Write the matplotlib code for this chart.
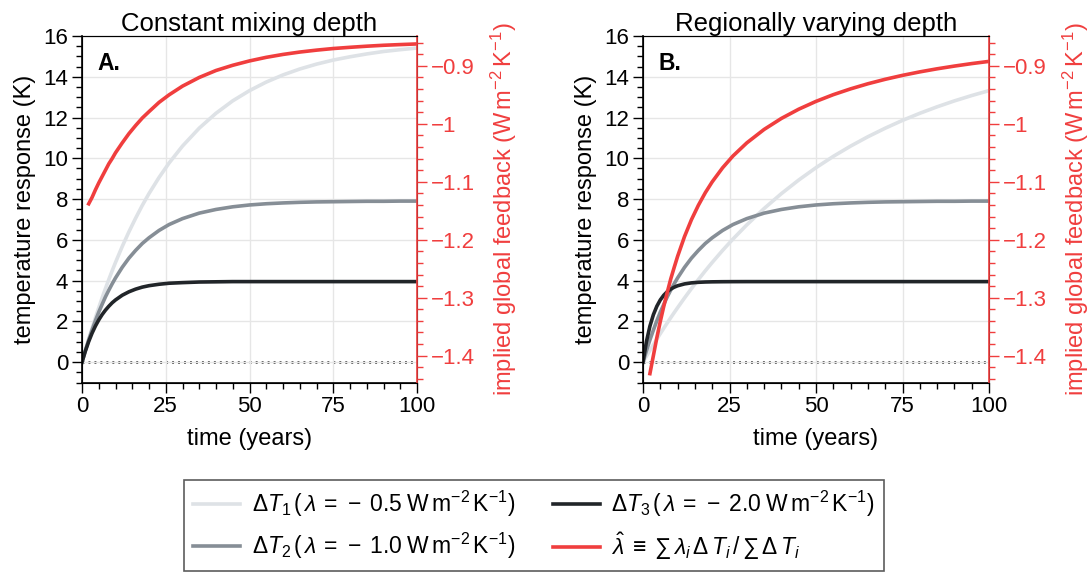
import numpy as np
import matplotlib
matplotlib.use("Agg")
import matplotlib.pyplot as plt
from matplotlib.ticker import MultipleLocator, FuncFormatter

plt.rcParams['font.family'] = ['Liberation Sans', 'DejaVu Sans']
plt.rcParams['mathtext.fontset'] = 'custom'
plt.rcParams['mathtext.rm'] = 'Liberation Sans'
plt.rcParams['mathtext.it'] = 'Liberation Sans:italic'
plt.rcParams['mathtext.bf'] = 'Liberation Sans:bold'
plt.rcParams['axes.unicode_minus'] = True

# ---------------- data ----------------
time = [0, 1, 2, 3, 4, 5, 6, 7, 8, 9, 10, 12, 14, 16, 18, 20, 23, 26, 30, 35,
        40, 45, 50, 55, 60, 65, 70, 75, 80, 85, 90, 95, 100]

# Panel A: constant mixing depth
A_dT1 = [0, 0.575, 1.13, 1.66, 2.18, 2.67, 3.15, 3.61, 4.05, 4.48, 4.89, 5.67, 6.39,
         7.06, 7.69, 8.27, 9.06, 9.77, 10.60, 11.48, 12.21, 12.82, 13.32, 13.74,
         14.09, 14.38, 14.62, 14.82, 14.98, 15.12, 15.24, 15.33, 15.41]
A_dT2 = [0, 0.56, 1.09, 1.57, 2.03, 2.45, 2.83, 3.20, 3.53, 3.84, 4.13, 4.65, 5.10,
         5.48, 5.82, 6.10, 6.46, 6.75, 7.04, 7.31, 7.49, 7.62, 7.71, 7.77, 7.81,
         7.84, 7.86, 7.87, 7.88, 7.89, 7.89, 7.90, 7.90]
A_dT3 = [0, 0.54, 1.01, 1.42, 1.77, 2.07, 2.33, 2.55, 2.74, 2.91, 3.05, 3.28, 3.45,
         3.58, 3.68, 3.75, 3.82, 3.87, 3.90, 3.93, 3.94, 3.95, 3.95, 3.95, 3.95,
         3.95, 3.95, 3.95, 3.95, 3.95, 3.95, 3.95, 3.95]
A_lam = [np.nan, np.nan, -1.138, -1.127, -1.114, -1.102, -1.091, -1.080, -1.069,
         -1.060, -1.050, -1.033, -1.017, -1.003, -0.990, -0.979, -0.963, -0.950,
         -0.935, -0.920, -0.908, -0.899, -0.8915, -0.8853, -0.8803, -0.8762,
         -0.8729, -0.8701, -0.8680, -0.8661, -0.8645, -0.8633, -0.8622]

# Panel B: regionally varying depth
B_dT1 = [0, 0.29, 0.575, 0.854, 1.128, 1.397, 1.661, 1.921, 2.176, 2.425, 2.669,
         3.148, 3.608, 4.051, 4.479, 4.890, 5.480, 6.038, 6.734, 7.536, 8.267,
         8.933, 9.540, 10.094, 10.598, 11.058, 11.476, 11.860, 12.208, 12.526,
         12.816, 13.079, 13.320]
B_dT2 = A_dT2
B_dT3 = [0, 1.013, 1.766, 2.326, 2.742, 3.052, 3.282, 3.454, 3.581, 3.675, 3.746,
         3.837, 3.888, 3.916, 3.931, 3.939, 3.945, 3.948, 3.95, 3.95, 3.95, 3.95,
         3.95, 3.95, 3.95, 3.95, 3.95, 3.95, 3.95, 3.95, 3.95, 3.95, 3.95]
B_lam = [np.nan, np.nan, -1.431, -1.400, -1.369, -1.341, -1.315, -1.291, -1.268,
         -1.248, -1.2287, -1.1945, -1.1654, -1.1406, -1.1189, -1.1001, -1.0759,
         -1.0555, -1.0329, -1.0097, -0.9907, -0.9748, -0.9613, -0.9497, -0.9397,
         -0.9309, -0.9232, -0.9164, -0.9104, -0.9051, -0.9004, -0.8961, -0.8923]

titles = ["Constant mixing depth", "Regionally varying depth"]
panel_labels = ["A.", "B."]
legend_labels = [
    r'$\Delta T_1\,(\,\lambda\, =\, -\;0.5\;\mathrm{W}\,\mathrm{m}^{-2}\,\mathrm{K}^{-1})$',
    r'$\Delta T_2\,(\,\lambda\, =\, -\;1.0\;\mathrm{W}\,\mathrm{m}^{-2}\,\mathrm{K}^{-1})$',
    r'$\Delta T_3\,(\,\lambda\, =\, -\;2.0\;\mathrm{W}\,\mathrm{m}^{-2}\,\mathrm{K}^{-1})$',
    r'$\hat{\lambda}\; \equiv\; \sum\, \lambda_i\, \Delta\, T_i\, /\, \sum\, \Delta\, T_i$',
]

# ---------------- style ----------------
C1 = '#dee2e6'
C2 = '#868e96'
C3 = '#212529'
CR = '#f03e3e'
FS_TICK = 16
FS_LAB = 17

fig = plt.figure(figsize=(10.91, 5.75), dpi=100)
lefts = [82 / 1091, 643 / 1091]
widths = [335 / 1091, 346 / 1091]
B0 = (575 - 382.5) / 575
H = 346.5 / 575

handles = None
for k, (T1, T2, T3, LAM) in enumerate([(A_dT1, A_dT2, A_dT3, A_lam),
                                        (B_dT1, B_dT2, B_dT3, B_lam)]):
    ax = fig.add_axes([lefts[k], B0, widths[k], H])
    ax.grid(True, which='major', color='#e6e6e6', lw=1.0, zorder=0)
    ax.axhline(0, color='#444444', ls=(0, (0.7, 1.45)), lw=2.0, zorder=1)
    l1, = ax.plot(time, T1, color=C1, lw=2.6, zorder=2)
    l2, = ax.plot(time, T2, color=C2, lw=2.6, zorder=3)
    l3, = ax.plot(time, T3, color=C3, lw=2.6, zorder=4)
    ax.set_xlim(0, 100)
    ax.set_ylim(-1, 16)
    ax.xaxis.set_major_locator(MultipleLocator(25))
    ax.xaxis.set_minor_locator(MultipleLocator(5))
    ax.yaxis.set_major_locator(MultipleLocator(2))
    ax.yaxis.set_minor_locator(MultipleLocator(0.5))
    ax.tick_params(which='major', length=7, width=1, labelsize=FS_TICK,
                   direction='out', pad=3)
    ax.tick_params(which='minor', length=4, width=1, direction='out')
    ax.tick_params(axis='x', which='both', top=False)
    ax.set_xlabel('time (years)', fontsize=FS_LAB, labelpad=8)
    ax.set_ylabel('temperature response (K)', fontsize=FS_LAB, labelpad=5)
    ax.set_title(titles[k], fontsize=18.5, pad=1)
    ax.text(0.045, 0.955, panel_labels[k], transform=ax.transAxes, fontsize=16.5,
            fontweight='bold', va='top', ha='left')
    for s in ['left', 'bottom']:
        ax.spines[s].set_linewidth(1.2)
    ax.spines['top'].set_color('#333333')
    ax.spines['top'].set_linewidth(0.8)

    ax2 = ax.twinx()
    lr, = ax2.plot(time, LAM, color=CR, lw=2.6, zorder=5)
    ax2.set_ylim(-1.4463, -0.8485)
    ax2.yaxis.set_major_locator(MultipleLocator(0.1))
    ax2.yaxis.set_minor_locator(MultipleLocator(0.02))
    ax2.yaxis.set_major_formatter(FuncFormatter(
        lambda v, p: ('%g' % round(v, 2)).replace('-', '\u2212')))
    ax2.tick_params(which='major', length=7, width=1, labelsize=FS_TICK,
                    colors=CR, direction='out', pad=3)
    ax2.tick_params(which='minor', length=4, width=1, colors=CR, direction='out')
    ax2.spines['right'].set_color(CR)
    ax2.spines['right'].set_linewidth(1.2)
    ax2.set_ylabel(r'implied global feedback (W$\,$m$^{-2}\,$K$^{-1}$)',
                   color=CR, fontsize=FS_LAB, labelpad=10)
    handles = [l1, l2, l3, lr]

leg = fig.legend(handles, legend_labels, loc='center', ncol=2,
                 bbox_to_anchor=(0.4895, 0.086), fontsize=16.5, frameon=True,
                 fancybox=False, edgecolor='#333333', handlelength=2.05,
                 columnspacing=1.65, handletextpad=0.5, borderpad=0.4,
                 labelspacing=0.5)
leg.get_frame().set_linewidth(1.2)

fig.savefig('out.png', dpi=100)
